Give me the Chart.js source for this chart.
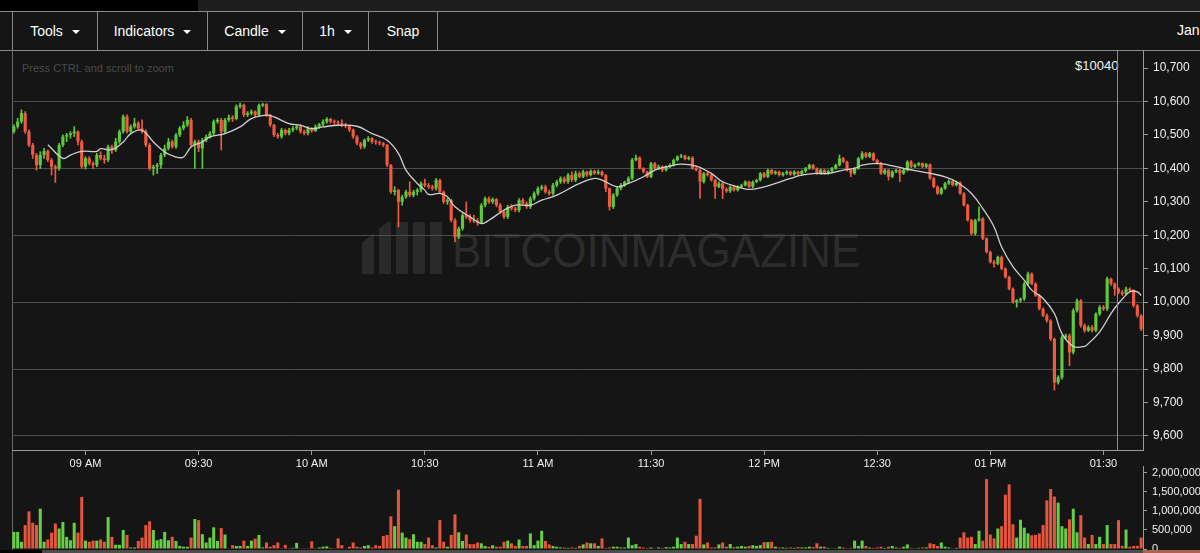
<!DOCTYPE html>
<html><head><meta charset="utf-8">
<script src="https://cdn.jsdelivr.net/npm/chart.js@4.4.1/dist/chart.umd.min.js"></script>
<style>
html,body{margin:0;padding:0;background:#151515;width:1200px;height:553px;overflow:hidden;font-family:"Liberation Sans",Arial,Helvetica,sans-serif;}
.abs{position:absolute;}
#topstrip{left:0;top:0;width:1200px;height:11px;background:#1d1d1d;}
#topblack{left:0;top:0;width:198px;height:11px;background:#000;}
#toolbar{left:0;top:11px;width:1200px;height:40px;border-top:1px solid #8a8a8a;border-bottom:1px solid #8a8a8a;box-sizing:border-box;background:#151515;}
.btn{position:absolute;top:0;height:38px;border-left:1px solid #8a8a8a;box-sizing:border-box;color:#fff;font-size:14px;display:flex;align-items:center;justify-content:center;}
.caret{display:inline-block;width:0;height:0;border-left:4px solid transparent;border-right:4px solid transparent;border-top:4px solid #fff;margin-left:9px;margin-top:2px;}
#leftline{left:12px;top:50px;width:1px;height:503px;background:#6a6a6a;}
#hint{left:22px;top:62px;font-size:11px;color:#4a4a4a;}
#price-label{left:1075px;top:58px;font-size:13px;color:#f2f2f2;}
#cross{left:1117px;top:50px;width:1px;height:400px;background:#8c8c8c;z-index:3;}
#jan{left:1177px;top:22px;font-size:14px;color:#fff;}
#wm{left:452px;top:227px;font-size:48px;line-height:48px;color:#2c2c2c;transform:scaleX(0.917);transform-origin:0 0;white-space:nowrap;z-index:0;}
#logo{left:362px;top:222px;width:84px;height:52px;z-index:0;background:repeating-linear-gradient(90deg,#2a2a2a 0 12px,transparent 12px 17px);clip-path:polygon(0 40%,30% 0,100% 0,100% 100%,0 100%);}
canvas{position:absolute;left:0;z-index:1;}
#price{top:50px;}
#vol{top:460px;}
#bottomband{left:42px;top:550px;width:1101px;height:3px;background:#4d4d4d;z-index:2;}
#bottomblack{left:0;top:550px;width:42px;height:3px;background:#000;z-index:2;}
#bottomright{left:1143px;top:550px;width:57px;height:3px;background:#a8664e;z-index:2;}
</style></head>
<body>
<div id="topstrip" class="abs"></div>
<div id="topblack" class="abs"></div>
<div id="toolbar" class="abs">
  <div class="btn" style="left:12px;width:85px;">Tools<span class="caret"></span></div>
  <div class="btn" style="left:97px;width:110px;">Indicators<span class="caret"></span></div>
  <div class="btn" style="left:207px;width:95px;">Candle<span class="caret"></span></div>
  <div class="btn" style="left:302px;width:66px;">1h<span class="caret"></span></div>
  <div class="btn" style="left:368px;width:69px;">Snap</div>
  <div class="btn" style="left:437px;width:1px;"></div>
</div>
<div id="jan" class="abs">Jan</div>
<div id="leftline" class="abs"></div>
<div id="logo" class="abs"></div>
<div id="wm" class="abs">BITCOINMAGAZINE</div>
<canvas id="price" width="1200" height="420"></canvas>
<canvas id="vol" width="1200" height="93"></canvas>
<div id="hint" class="abs">Press CTRL and scroll to zoom</div>
<div id="price-label" class="abs">$10040</div>
<div id="cross" class="abs"></div>
<div id="bottomblack" class="abs"></div>
<div id="bottomband" class="abs"></div>
<div id="bottomright" class="abs"></div>
<script>
// ---- data (1-minute candles starting 08:41) ----
const startTime = '08:41';
const opens = [
10510,10525,10540,10565,10510,10470,10440,10410,10440,10452,
10425,10405,10400,10470,10495,10500,10505,10510,10480,10405,
10430,10415,10410,10440,10430,10425,10465,10455,10480,10510,
10555,10510,10525,10535,10520,10510,10470,10400,10405,10410,
10440,10460,10480,10465,10500,10520,10530,10545,10470,10480,
10460,10485,10495,10505,10540,10545,10510,10545,10552,10548,
10585,10590,10560,10565,10570,10560,10588,10592,10560,10530,
10500,10495,10515,10505,10515,10520,10525,10510,10505,10520,
10512,10525,10532,10540,10548,10540,10538,10535,10530,10528,
10515,10495,10475,10465,10485,10490,10480,10478,10475,10470,
10410,10330,10335,10300,10315,10330,10320,10330,10335,10355,
10350,10345,10340,10365,10330,10300,10305,10245,10195,10220,
10260,10255,10245,10242,10238,10290,10310,10300,10308,10290,
10270,10255,10285,10280,10275,10305,10295,10285,10310,10325,
10340,10345,10330,10325,10350,10360,10370,10360,10380,10365,
10385,10375,10390,10380,10392,10385,10390,10380,10340,10285,
10320,10340,10350,10360,10370,10425,10432,10400,10390,10375,
10415,10400,10405,10395,10405,10410,10425,10435,10438,10428,
10432,10400,10395,10360,10385,10380,10365,10345,10355,10338,
10332,10345,10335,10345,10350,10360,10345,10360,10365,10385,
10375,10395,10385,10390,10380,10385,10390,10382,10390,10383,
10392,10400,10410,10400,10385,10395,10385,10392,10400,10410,
10430,10420,10395,10385,10400,10430,10445,10435,10445,10425,
10415,10385,10395,10375,10390,10395,10385,10395,10420,10405,
10410,10415,10405,10412,10370,10345,10325,10340,10355,10362,
10350,10358,10325,10290,10245,10205,10245,10250,10190,10150,
10120,10115,10135,10100,10075,10040,10000,10005,10010,10055,
10085,10055,10020,9980,9960,9945,9890,9760,9775,9895,
9900,9850,9975,10005,9930,9915,9925,9915,9965,9985,
9980,10070,10055,10040,10030,10025,10040,10035,9990,9960];
const highs = [
10530,10550,10575,10570,10515,10475,10445,10450,10460,10455,
10430,10410,10475,10500,10505,10510,10525,10512,10485,10435,
10435,10420,10445,10450,10440,10470,10470,10490,10515,10560,
10560,10530,10550,10540,10545,10515,10475,10410,10415,10445,
10470,10490,10485,10505,10525,10540,10555,10550,10485,10485,
10490,10500,10510,10545,10550,10550,10550,10560,10558,10590,
10595,10592,10570,10575,10572,10592,10595,10594,10562,10532,
10505,10520,10518,10520,10525,10530,10528,10515,10525,10522,
10530,10535,10545,10552,10550,10545,10542,10545,10535,10530,
10518,10498,10478,10488,10495,10492,10485,10482,10478,10472,
10412,10345,10338,10320,10335,10360,10335,10340,10360,10368,
10355,10350,10370,10368,10333,10310,10308,10250,10225,10265,
10300,10262,10260,10250,10295,10315,10315,10312,10310,10295,
10275,10290,10292,10285,10310,10310,10300,10315,10330,10345,
10350,10350,10335,10355,10365,10375,10375,10385,10390,10392,
10390,10395,10392,10396,10395,10395,10393,10382,10342,10325,
10345,10355,10362,10375,10430,10440,10435,10402,10392,10418,
10418,10410,10408,10408,10414,10428,10438,10442,10440,10436,
10435,10403,10398,10388,10390,10383,10368,10360,10358,10342,
10348,10347,10348,10353,10363,10362,10363,10368,10388,10388,
10398,10397,10393,10392,10388,10393,10392,10393,10392,10395,
10403,10413,10412,10402,10398,10397,10395,10403,10413,10440,
10433,10422,10398,10403,10433,10450,10448,10448,10447,10428,
10418,10398,10397,10393,10398,10398,10398,10423,10423,10414,
10418,10417,10415,10414,10373,10348,10343,10358,10366,10364,
10362,10360,10328,10293,10248,10248,10285,10253,10193,10153,
10125,10138,10138,10103,10078,10043,10008,10013,10060,10090,
10088,10058,10023,9983,9965,9948,9893,9780,9900,9905,
9905,9980,10010,10008,9935,9930,9930,9968,9990,9990,
10075,10072,10058,10043,10035,10045,10043,10038,9993,9963];
const lows = [
10505,10520,10535,10505,10465,10430,10395,10400,10430,10420,
10380,10358,10395,10465,10480,10490,10495,10470,10400,10398,
10410,10400,10405,10425,10415,10420,10445,10450,10475,10505,
10505,10505,10520,10515,10505,10465,10395,10380,10385,10400,
10435,10455,10460,10460,10495,10515,10525,10465,10400,10450,
10400,10480,10490,10500,10535,10455,10505,10540,10540,10545,
10580,10555,10555,10560,10555,10555,10585,10555,10525,10495,
10490,10490,10500,10500,10510,10515,10505,10500,10500,10508,
10510,10520,10528,10535,10535,10532,10528,10525,10522,10510,
10490,10470,10458,10460,10480,10475,10472,10470,10465,10405,
10325,10320,10225,10290,10310,10315,10315,10320,10330,10345,
10340,10335,10335,10325,10295,10292,10240,10180,10190,10215,
10250,10240,10238,10230,10235,10285,10295,10295,10285,10265,
10250,10250,10275,10270,10270,10290,10280,10280,10305,10320,
10335,10325,10320,10320,10345,10355,10355,10355,10360,10360,
10372,10372,10376,10377,10382,10382,10377,10330,10275,10280,
10316,10336,10346,10356,10366,10422,10398,10386,10372,10372,
10397,10397,10390,10392,10402,10407,10422,10432,10425,10425,
10397,10392,10310,10356,10377,10362,10310,10342,10310,10328,
10328,10332,10332,10342,10347,10342,10342,10357,10362,10372,
10372,10382,10382,10377,10377,10382,10379,10379,10380,10380,
10388,10397,10397,10382,10382,10382,10382,10390,10397,10407,
10417,10392,10375,10382,10397,10427,10432,10432,10422,10412,
10382,10382,10365,10372,10387,10360,10382,10392,10402,10402,
10407,10402,10402,10367,10342,10322,10322,10337,10352,10347,
10347,10322,10287,10242,10202,10200,10242,10187,10147,10117,
10105,10112,10097,10072,10037,9997,9985,10000,10005,10050,
10052,10017,9977,9957,9940,9885,9737,9755,9770,9890,
9810,9845,9970,9925,9910,9912,9910,9912,9960,9975,
9975,10050,10020,10025,10020,10022,10030,9985,9955,9915];
const closes = [
10525,10540,10565,10510,10470,10440,10410,10440,10452,10425,
10405,10400,10470,10495,10500,10505,10510,10480,10405,10430,
10415,10410,10440,10430,10425,10465,10455,10480,10510,10555,
10510,10525,10535,10520,10510,10470,10400,10405,10410,10440,
10460,10480,10465,10500,10520,10530,10545,10470,10480,10460,
10485,10495,10505,10540,10545,10510,10545,10552,10548,10585,
10590,10560,10565,10570,10560,10588,10592,10560,10530,10500,
10495,10515,10505,10515,10520,10525,10510,10505,10520,10512,
10525,10532,10540,10548,10540,10538,10535,10530,10528,10515,
10495,10475,10465,10485,10490,10480,10478,10475,10470,10410,
10330,10335,10300,10315,10330,10320,10330,10335,10355,10350,
10345,10340,10365,10330,10300,10305,10245,10195,10220,10260,
10255,10245,10242,10238,10290,10310,10300,10308,10290,10270,
10255,10285,10280,10275,10305,10295,10285,10310,10325,10340,
10345,10330,10325,10350,10360,10370,10360,10380,10365,10385,
10375,10390,10380,10392,10385,10390,10380,10340,10285,10320,
10340,10350,10360,10370,10425,10432,10400,10390,10375,10415,
10400,10405,10395,10405,10410,10425,10435,10438,10428,10432,
10400,10395,10360,10385,10380,10365,10345,10355,10338,10332,
10345,10335,10345,10350,10360,10345,10360,10365,10385,10375,
10395,10385,10390,10380,10385,10390,10382,10390,10383,10392,
10400,10410,10400,10385,10395,10385,10392,10400,10410,10430,
10420,10395,10385,10400,10430,10445,10435,10445,10425,10415,
10385,10395,10375,10390,10395,10385,10395,10420,10405,10410,
10415,10405,10412,10370,10345,10325,10340,10355,10362,10350,
10358,10325,10290,10245,10205,10245,10250,10190,10150,10120,
10115,10135,10100,10075,10040,10000,10005,10010,10055,10085,
10055,10020,9980,9960,9945,9890,9760,9775,9895,9900,
9850,9975,10005,9930,9915,9925,9915,9965,9985,9980,
10070,10055,10040,10030,10025,10040,10035,9990,9960,9920];
const volumes = [
450000,450000,190000,630000,990000,690000,630000,1060000,190000,250000,
430000,670000,540000,710000,320000,230000,690000,430000,1370000,220000,
190000,220000,220000,250000,190000,840000,320000,110000,110000,500000,
370000,40000,40000,210000,300000,630000,730000,500000,230000,260000,
450000,230000,320000,210000,80000,60000,60000,300000,790000,760000,
390000,170000,300000,570000,210000,550000,380000,10000,100000,80000,
80000,220000,80000,220000,270000,370000,40000,170000,60000,100000,
170000,20000,110000,20000,30000,160000,20000,20000,20000,200000,
20000,40000,60000,70000,30000,20000,280000,100000,10000,60000,
170000,60000,40000,80000,100000,40000,100000,80000,340000,370000,
860000,600000,1560000,430000,300000,260000,390000,190000,190000,130000,
300000,100000,40000,760000,190000,60000,370000,910000,440000,210000,
380000,130000,130000,170000,150000,80000,60000,100000,60000,60000,
190000,220000,150000,80000,250000,80000,80000,410000,100000,220000,
480000,210000,120000,80000,60000,40000,40000,30000,40000,30000,
80000,120000,170000,150000,150000,80000,280000,30000,40000,60000,
60000,40000,40000,300000,100000,130000,60000,40000,30000,40000,
20000,40000,30000,50000,40000,60000,300000,130000,190000,130000,
130000,350000,1320000,120000,170000,40000,40000,120000,170000,60000,
130000,50000,60000,80000,60000,80000,100000,80000,100000,180000,
180000,190000,60000,40000,40000,30000,40000,30000,50000,40000,
40000,60000,50000,150000,60000,60000,30000,20000,20000,60000,
40000,20000,30000,220000,80000,220000,80000,40000,30000,40000,
60000,30000,60000,80000,40000,30000,60000,120000,30000,20000,
30000,40000,40000,150000,130000,80000,170000,60000,40000,20000,
30000,300000,440000,300000,320000,130000,480000,220000,1840000,380000,
280000,540000,600000,1430000,1700000,650000,300000,770000,560000,410000,
360000,370000,410000,630000,1280000,1580000,1380000,1220000,600000,540000,
780000,1060000,440000,890000,300000,130000,370000,130000,320000,130000,
630000,130000,130000,760000,80000,510000,60000,80000,80000,300000];
// moving average line, read at these candle positions
const maIndex = [9,13,15,18,22,23,26,29,31,34,37,40,43,45,47,50,52,56,60,63,67,69,73,76,79,82,86,91,95,99,
102,104,107,109,110,113,115,117,121,124,126,130,133,137,140,144,149,151,154,156,160,163,167,170,174,177,181,185,188,192,
195,199,202,206,209,213,216,220,223,225,229,232,236,239,243,247,250,254,257,260,262,265,268,270,273,276,278,281,284,285,
288,291,293,296,298,299];
const maValue = [10471,10430,10440,10451,10451,10459,10456,10479,10504,10514,10479,10449,10434,10434,10464,10479,10494,10504,10524,10549,10559,10554,10534,10529,10519,10524,10529,10526,10504,10484,
10445,10395,10355,10335,10322,10325,10315,10285,10255,10235,10245,10275,10290,10290,10305,10320,10350,10360,10370,10365,10345,10355,10375,10395,10407,10413,10407,10385,10360,10345,
10337,10345,10355,10370,10380,10385,10385,10395,10400,10410,10415,10410,10400,10393,10385,10375,10360,10325,10280,10225,10165,10106,10066,10036,10011,9966,9906,9868,9868,9876,
9911,9966,9996,10031,10031,10020];
const tickTimes = ['09:00','09:30','10:00','10:30','11:00','11:30','12:00','12:30','13:00','13:30'];
const tickLabels = ['09 AM','09:30','10 AM','10:30','11 AM','11:30','12 PM','12:30','01 PM','01:30'];
const priceTicks = [9600,9700,9800,9900,10000,10100,10200,10300,10400,10500,10600,10700];
const volumeTicks = [0,500000,1000000,1500000,2000000];

// ---- build ----
const n = opens.length;
const [sh, sm] = startTime.split(':').map(Number);
const timeLabels = Array.from({length:n}, (_, i) => {
  const t = sh*60 + sm + i;
  return String(Math.floor(t/60)).padStart(2,'0') + ':' + String(t%60).padStart(2,'0');
});
const up = opens.map((o,i) => closes[i] >= o);
const GREEN = '#5fc93e', RED = '#ef5a40';
const VGREEN = '#66cf48', VRED = '#e6553d';
const maData = new Array(n).fill(null);
maIndex.forEach((k,j) => { maData[k] = maValue[j]; });

Chart.defaults.font.family = '"Liberation Sans", Arial, Helvetica, sans-serif';

new Chart(document.getElementById('price'), {
  type: 'bar',
  data: {
    labels: timeLabels,
    datasets: [
      {type:'line', data: maData, borderColor:'#cfcfcf', borderWidth:1.3, pointRadius:0, tension:0.4, spanGaps:true, order:0},
      {data: opens.map((o,i) => [o, closes[i]]), backgroundColor: up.map(u => u ? GREEN : RED),
       borderWidth:0, barPercentage:0.84, categoryPercentage:1, grouped:false, minBarLength:1, order:1},
      {data: lows.map((l,i) => [l, highs[i]]), backgroundColor: up.map(u => u ? GREEN : RED),
       barThickness:1, grouped:false, order:2}
    ]
  },
  options: {
    responsive:false, animation:false, devicePixelRatio:1,
    layout:{padding:{left:12, top:0, right:0, bottom:0}},
    plugins:{legend:{display:false}, tooltip:{enabled:false}},
    scales:{
      x:{
        offset:true,
        grid:{display:true, drawOnChartArea:false, offset:false, drawTicks:true, tickLength:5, tickColor:'#9a9a9a'},
        border:{color:'#9a9a9a'},
        ticks:{autoSkip:false, maxRotation:0, color:'#f0f0f0', font:{size:11}, padding:2,
          callback:(v) => { const j = tickTimes.indexOf(timeLabels[v]); return j >= 0 ? tickLabels[j] : ''; }},
        afterBuildTicks:(s) => { s.ticks = s.ticks.filter(t => tickTimes.includes(timeLabels[t.value])); },
        afterFit:(s) => { s.height = 20; s.paddingLeft = 0; s.paddingRight = 0; }
      },
      y:{
        position:'right', min:9558, max:10754,
        afterBuildTicks:(s) => { s.ticks = priceTicks.map(v => ({value:v})); },
        grid:{color:(c) => (c.tick && c.tick.value % 200 === 0) ? '#4d4d4d' : 'rgba(0,0,0,0)', tickColor:'#9a9a9a', tickLength:5},
        border:{color:'#9a9a9a'},
        ticks:{color:'#f0f0f0', font:{size:12}, padding:5, callback:(v) => v.toLocaleString('en-US')},
        afterFit:(s) => { s.width = 57; s.paddingTop = 0; s.paddingBottom = 0; }
      }
    }
  }
});

new Chart(document.getElementById('vol'), {
  type:'bar',
  data:{labels: timeLabels, datasets:[{data: volumes, backgroundColor: up.map(u => u ? VGREEN : VRED), barPercentage:0.8, categoryPercentage:1}]},
  options:{
    responsive:false, animation:false, devicePixelRatio:1,
    layout:{padding:{left:12, top:6, right:0, bottom:4}},
    plugins:{legend:{display:false}, tooltip:{enabled:false}},
    scales:{
      x:{display:false, offset:true},
      y:{
        position:'right', min:0, max:2184000,
        afterBuildTicks:(s) => { s.ticks = volumeTicks.map(v => ({value:v})); },
        grid:{drawOnChartArea:false, tickColor:'#9a9a9a', tickLength:4},
        border:{color:'#9a9a9a'},
        ticks:{color:'#f0f0f0', font:{size:11}, padding:5, callback:(v) => v.toLocaleString('en-US')},
        afterFit:(s) => { s.width = 57; s.paddingTop = 0; s.paddingBottom = 0; }
      }
    }
  }
});
</script>
</body></html>
